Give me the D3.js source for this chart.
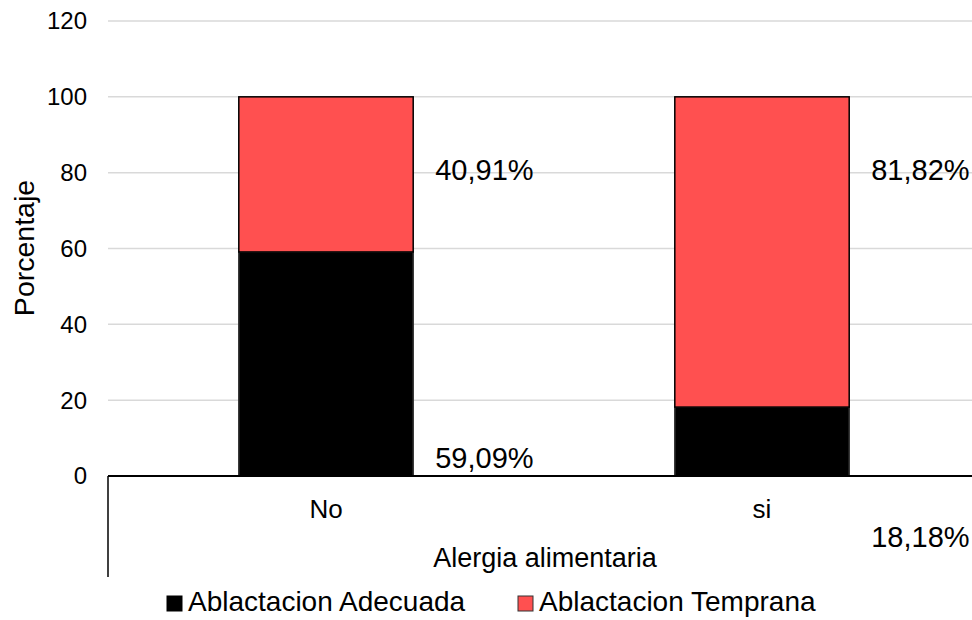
<!DOCTYPE html>
<html>
<head>
<meta charset="utf-8">
<script src="https://cdn.jsdelivr.net/npm/d3@7/dist/d3.min.js"></script>
<style>
  html, body { margin: 0; padding: 0; background: #fff; }
  svg { display: block; font-family: "Liberation Sans", Arial, sans-serif; }
</style>
</head>
<body>
<svg id="chart" width="972" height="620"></svg>
<script>
const categories = ["No", "si"];
const seriesNames = ["Ablactacion Adecuada", "Ablactacion Temprana"];
const adecuada = [59.09, 18.18];
const temprana = [40.91, 81.82];
const yTicks = [0, 20, 40, 60, 80, 100, 120];
const colors = ["#000000", "#FF5050"];

const svg = d3.select("#chart");
const plotLeft = 108, plotRight = 980, plotTop = 21, plotBottom = 476;

const x = d3.scaleBand().domain(categories).range([plotLeft, plotRight])
  .paddingInner(0.6).paddingOuter(0.3);
const y = d3.scaleLinear().domain([0, 120]).range([plotBottom, plotTop]);

// gridlines
svg.append("g").selectAll("line").data(yTicks.filter(d => d > 0)).join("line")
  .attr("x1", plotLeft).attr("x2", 972)
  .attr("y1", d => y(d)).attr("y2", d => y(d))
  .attr("stroke", "#d9d9d9").attr("stroke-width", 1.5);

// y tick labels
svg.append("g").selectAll("text").data(yTicks).join("text")
  .attr("x", 87).attr("y", d => y(d)).attr("dy", "0.35em")
  .attr("text-anchor", "end").attr("font-size", 24).attr("fill", "#000")
  .text(d => d);

// stacked data
const rows = categories.map((c, i) => ({ cat: c, a: adecuada[i], t: temprana[i] }));
const stack = d3.stack().keys(["a", "t"])(rows);

const gBars = svg.append("g");
stack.forEach((layer, li) => {
  gBars.selectAll(null).data(layer).join("rect")
    .attr("x", d => x(d.data.cat))
    .attr("width", x.bandwidth())
    .attr("y", d => y(d[1]))
    .attr("height", d => y(d[0]) - y(d[1]))
    .attr("fill", colors[li])
    .attr("stroke", li === 0 ? "#333" : "#000")
    .attr("stroke-width", 1.5);
});

// axis lines
svg.append("line").attr("x1", plotLeft).attr("x2", 972).attr("y1", plotBottom).attr("y2", plotBottom)
  .attr("stroke", "#000").attr("stroke-width", 2);
svg.append("line").attr("x1", plotLeft).attr("x2", plotLeft).attr("y1", plotBottom).attr("y2", 577)
  .attr("stroke", "#000").attr("stroke-width", 1.5);

// category labels
svg.append("g").selectAll("text").data(categories).join("text")
  .attr("x", d => x(d) + x.bandwidth() / 2).attr("y", 518)
  .attr("text-anchor", "middle").attr("font-size", 26).text(d => d);

// axis titles
svg.append("text").attr("x", 545).attr("y", 567).attr("text-anchor", "middle")
  .attr("font-size", 27).text("Alergia alimentaria");
svg.append("text").attr("transform", "translate(34,248) rotate(-90)")
  .attr("text-anchor", "middle").attr("font-size", 28.5).text("Porcentaje");

// data labels
const fmt = v => v.toFixed(2).replace(".", ",") + "%";
const labelX = c => x(c) + x.bandwidth() + 22;
const gLab = svg.append("g").attr("font-size", 29);
categories.forEach((c, i) => {
  gLab.append("text").attr("x", labelX(c)).attr("y", y(80.7)).attr("dy", "0.35em")
    .text(fmt(temprana[i]));
});
gLab.append("text").attr("x", labelX("No")).attr("y", y(4.9)).attr("dy", "0.35em").text(fmt(adecuada[0]));
gLab.append("text").attr("x", labelX("si")).attr("y", y(-16)).attr("dy", "0.35em").text(fmt(adecuada[1]));

// legend
const legendX = [167, 518];
const lg = svg.append("g");
seriesNames.forEach((s, i) => {
  lg.append("rect").attr("x", legendX[i]).attr("y", 596).attr("width", 15).attr("height", 15)
    .attr("fill", colors[i]).attr("stroke", i === 0 ? "#000" : "#333").attr("stroke-width", 1);
  lg.append("text").attr("x", legendX[i] + 21).attr("y", 611).attr("font-size", 28).text(s);
});
</script>
</body>
</html>
